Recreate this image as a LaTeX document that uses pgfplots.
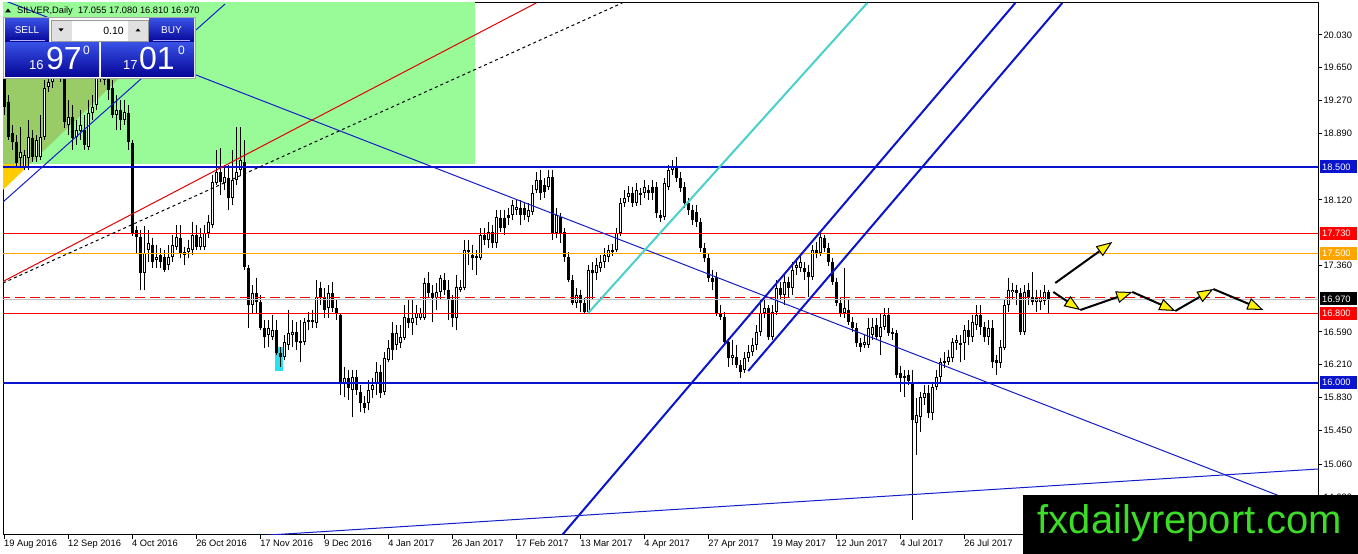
\documentclass[border=0pt]{standalone}
\usepackage{pgfplots}
\pgfplotsset{compat=1.18}
\usepackage{pgfplotstable}
\usepackage{fontspec}
\setmainfont{Liberation Sans}
\usetikzlibrary{arrows.meta}
\definecolor{mtgreen}{RGB}{152,251,152}
\definecolor{olivegr}{RGB}{153,204,102}
\definecolor{mtgold}{RGB}{255,204,0}
\definecolor{mtblue}{RGB}{10,20,205}
\definecolor{thinblue}{RGB}{20,30,200}
\definecolor{mtred}{RGB}{255,0,0}
\definecolor{mtorange}{RGB}{255,165,0}
\definecolor{mtsilver}{RGB}{192,192,192}
\definecolor{mtturq}{RGB}{72,209,204}
\definecolor{hlcyan}{RGB}{40,225,240}
\definecolor{fxgreen}{RGB}{60,220,40}
\definecolor{btntop}{RGB}{55,80,228}
\definecolor{btnbot}{RGB}{5,5,150}
\pgfplotstableread{
i o h l c
0 19.57 19.62 19.10 19.20
1 19.25 19.33 18.81 18.85
2 18.89 18.99 18.70 18.79
3 18.79 18.87 18.49 18.55
4 18.61 18.96 18.50 18.67
5 18.50 18.70 18.47 18.64
6 18.61 19.05 18.47 18.85
7 18.84 18.93 18.56 18.62
8 18.62 18.87 18.56 18.81
9 18.62 19.10 18.58 18.85
10 18.85 19.51 18.81 19.42
11 19.43 19.53 19.37 19.49
12 19.49 19.68 19.42 19.62
13 19.60 19.80 19.57 19.74
14 19.74 19.80 19.49 19.53
15 19.53 19.62 18.95 19.02
16 18.99 19.28 18.87 19.08
17 19.08 19.22 18.70 18.84
18 18.85 19.05 18.76 18.93
19 18.92 19.16 18.81 18.99
20 18.93 19.10 18.70 18.76
21 18.73 19.28 18.70 19.13
22 19.13 19.33 19.05 19.20
23 19.22 19.62 19.16 19.53
24 19.53 19.74 19.49 19.68
25 19.68 19.74 19.45 19.51
26 19.53 19.57 19.28 19.39
27 19.42 19.51 19.07 19.10
28 19.10 19.33 18.93 19.16
29 19.16 19.28 18.93 19.05
30 19.05 19.28 18.99 19.14
31 19.13 19.22 18.70 18.79
32 18.78 18.81 17.70 17.74
33 17.77 17.82 17.50 17.69
34 17.69 17.77 17.08 17.27
35 17.27 17.82 17.08 17.50
36 17.54 17.77 17.40 17.62
37 17.60 17.68 17.33 17.40
38 17.42 17.60 17.33 17.46
39 17.48 17.56 17.33 17.40
40 17.46 17.54 17.28 17.31
41 17.37 17.60 17.31 17.46
42 17.46 17.71 17.40 17.60
43 17.57 17.83 17.54 17.69
44 17.68 17.83 17.45 17.50
45 17.48 17.57 17.37 17.52
46 17.52 17.66 17.45 17.56
47 17.54 17.86 17.48 17.71
48 17.71 17.83 17.54 17.57
49 17.57 17.79 17.54 17.69
50 17.57 17.83 17.54 17.74
51 17.74 17.94 17.68 17.86
52 17.83 18.41 17.79 18.33
53 18.32 18.70 18.29 18.44
54 18.44 18.72 18.18 18.33
55 18.32 18.52 18.23 18.38
56 18.37 18.52 18.00 18.14
57 18.14 18.70 18.06 18.35
58 18.35 18.96 18.29 18.44
59 18.47 18.96 18.41 18.58
60 18.56 18.81 17.31 17.34
61 17.33 17.37 16.64 16.90
62 16.90 17.13 16.81 17.04
63 17.04 17.21 16.81 16.94
64 16.94 17.02 16.61 16.64
65 16.64 16.73 16.40 16.53
66 16.55 16.73 16.42 16.64
67 16.53 16.79 16.50 16.61
68 16.61 16.73 16.32 16.35
69 16.35 16.42 16.18 16.30
70 16.30 16.55 16.26 16.47
71 16.44 16.84 16.38 16.58
72 16.55 16.73 16.42 16.59
73 16.59 16.71 16.38 16.47
74 16.49 16.73 16.24 16.46
75 16.47 16.75 16.44 16.71
76 16.73 16.82 16.61 16.71
77 16.71 16.84 16.64 16.73
78 16.69 17.19 16.64 16.99
79 17.10 17.17 16.90 16.99
80 16.99 17.10 16.75 16.84
81 16.87 17.13 16.75 17.04
82 17.04 17.17 16.82 16.87
83 16.87 16.96 16.73 16.81
84 16.79 16.81 15.86 16.00
85 16.00 16.18 15.84 16.06
86 16.06 16.15 15.80 15.94
87 15.92 16.15 15.60 16.07
88 16.07 16.15 15.86 15.92
89 15.89 15.98 15.66 15.77
90 15.77 15.85 15.65 15.71
91 15.77 16.03 15.69 15.92
92 15.92 16.06 15.82 15.98
93 16.00 16.24 15.86 16.13
94 16.13 16.21 15.82 15.88
95 15.89 16.36 15.86 16.29
96 16.26 16.50 16.24 16.40
97 16.58 16.71 16.26 16.38
98 16.44 16.67 16.38 16.58
99 16.46 16.67 16.40 16.53
100 16.52 16.90 16.50 16.76
101 16.75 16.96 16.64 16.69
102 16.69 16.96 16.55 16.75
103 16.75 16.90 16.67 16.81
104 16.75 16.87 16.73 16.81
105 16.75 17.21 16.73 17.16
106 17.16 17.28 16.98 17.04
107 17.04 17.13 16.71 16.98
108 16.98 17.16 16.84 17.05
109 17.05 17.25 16.96 17.21
110 17.19 17.27 17.02 17.08
111 17.08 17.19 16.73 16.96
112 16.96 17.02 16.65 16.75
113 16.75 17.25 16.61 17.11
114 17.08 17.19 17.05 17.11
115 17.10 17.66 17.08 17.54
116 17.52 17.66 17.37 17.54
117 17.48 17.60 17.31 17.45
118 17.47 17.54 17.25 17.45
119 17.45 17.79 17.42 17.71
120 17.71 17.79 17.60 17.66
121 17.66 17.86 17.56 17.75
122 17.75 17.83 17.56 17.62
123 17.62 18.00 17.56 17.92
124 17.91 18.00 17.75 17.79
125 17.91 18.00 17.71 17.79
126 17.91 18.03 17.83 17.94
127 17.94 18.12 17.89 18.06
128 18.00 18.12 17.94 18.04
129 18.03 18.12 17.83 17.94
130 18.03 18.08 17.89 17.94
131 17.92 18.08 17.86 18.00
132 17.98 18.29 17.94 18.20
133 18.23 18.44 18.20 18.35
134 18.35 18.47 18.12 18.20
135 18.29 18.37 18.14 18.21
136 18.27 18.47 18.23 18.38
137 18.38 18.47 17.66 17.74
138 17.74 18.03 17.68 17.94
139 17.92 17.97 17.62 17.74
140 17.75 17.79 17.40 17.46
141 17.46 17.52 17.17 17.19
142 17.19 17.25 16.90 16.93
143 16.93 17.10 16.87 17.02
144 17.02 17.08 16.82 16.93
145 16.93 16.98 16.80 16.82
146 16.82 17.37 16.80 17.31
147 17.31 17.40 16.96 17.27
148 17.27 17.45 17.19 17.37
149 17.33 17.48 17.28 17.40
150 17.40 17.56 17.33 17.48
151 17.46 17.60 17.40 17.54
152 17.52 17.61 17.47 17.54
153 17.54 17.79 17.52 17.74
154 17.74 18.14 17.70 18.08
155 18.08 18.23 18.04 18.14
156 18.15 18.28 18.10 18.20
157 18.20 18.27 18.04 18.08
158 18.08 18.32 18.05 18.23
159 18.20 18.26 18.06 18.18
160 18.20 18.35 18.14 18.27
161 18.23 18.29 18.12 18.20
162 18.27 18.35 18.12 18.20
163 18.27 18.33 17.91 17.97
164 17.94 18.00 17.86 17.91
165 17.92 18.37 17.89 18.32
166 18.27 18.52 18.23 18.47
167 18.47 18.58 18.41 18.50
168 18.49 18.62 18.33 18.37
169 18.37 18.44 18.21 18.26
170 18.27 18.33 18.03 18.08
171 18.08 18.14 17.94 18.00
172 18.00 18.06 17.83 17.89
173 17.98 18.06 17.81 17.86
174 17.86 17.91 17.52 17.56
175 17.56 17.62 17.40 17.45
176 17.45 17.50 17.17 17.21
177 17.21 17.31 17.08 17.17
178 17.23 17.28 16.77 16.81
179 16.81 16.90 16.73 16.76
180 16.76 16.82 16.44 16.47
181 16.47 16.52 16.18 16.29
182 16.29 16.50 16.21 16.32
183 16.30 16.44 16.17 16.21
184 16.21 16.26 16.06 16.13
185 16.15 16.36 16.11 16.29
186 16.29 16.44 16.24 16.36
187 16.36 16.52 16.31 16.44
188 16.44 16.67 16.38 16.59
189 16.59 16.96 16.54 16.81
190 16.81 16.96 16.75 16.87
191 16.87 16.90 16.50 16.53
192 16.53 16.90 16.50 16.82
193 16.82 17.19 16.79 17.10
194 17.10 17.17 16.96 17.02
195 17.02 17.25 16.90 17.17
196 17.17 17.23 16.98 17.10
197 17.10 17.40 17.02 17.31
198 17.33 17.45 17.25 17.37
199 17.33 17.48 17.28 17.40
200 17.33 17.40 17.19 17.28
201 17.28 17.37 16.99 17.23
202 17.23 17.60 17.19 17.54
203 17.54 17.63 17.45 17.50
204 17.50 17.75 17.47 17.69
205 17.68 17.71 17.52 17.56
206 17.56 17.62 17.35 17.40
207 17.40 17.45 17.13 17.17
208 17.17 17.21 16.89 16.93
209 16.93 16.98 16.76 16.81
210 16.81 17.33 16.75 16.87
211 16.84 16.96 16.67 16.71
212 16.71 16.76 16.59 16.64
213 16.64 16.69 16.42 16.46
214 16.46 16.52 16.36 16.42
215 16.44 16.55 16.40 16.47
216 16.44 16.75 16.40 16.64
217 16.55 16.75 16.50 16.65
218 16.67 16.75 16.50 16.53
219 16.53 16.81 16.32 16.65
220 16.65 16.87 16.61 16.79
221 16.79 16.87 16.54 16.58
222 16.59 16.64 16.50 16.57
223 16.58 16.61 16.06 16.09
224 16.11 16.20 15.89 16.06
225 16.08 16.15 15.84 16.06
226 16.09 16.15 15.98 16.02
227 16.00 16.15 14.41 15.57
228 15.54 15.82 15.16 15.63
229 15.60 15.89 15.43 15.84
230 15.82 15.98 15.74 15.88
231 15.88 15.98 15.59 15.65
232 15.65 16.01 15.57 15.95
233 15.95 16.15 15.92 16.07
234 16.07 16.29 16.01 16.24
235 16.23 16.36 16.17 16.25
236 16.24 16.38 16.21 16.30
237 16.29 16.52 16.24 16.47
238 16.46 16.55 16.38 16.50
239 16.46 16.55 16.24 16.44
240 16.46 16.67 16.26 16.61
241 16.61 16.73 16.44 16.53
242 16.53 16.79 16.47 16.71
243 16.67 16.90 16.61 16.79
244 16.79 16.90 16.55 16.65
245 16.65 16.71 16.47 16.53
246 16.53 16.73 16.44 16.64
247 16.64 16.73 16.17 16.24
248 16.26 16.32 16.09 16.23
249 16.23 16.50 16.17 16.42
250 16.40 16.96 16.38 16.90
251 16.90 17.21 16.82 17.08
252 17.05 17.16 16.96 17.08
253 17.08 17.13 16.90 17.04
254 17.04 17.10 16.55 16.59
255 16.59 17.13 16.55 17.05
256 17.08 17.16 16.90 16.99
257 16.99 17.28 16.90 16.94
258 16.94 17.08 16.82 16.98
259 16.94 17.08 16.84 16.99
260 16.95 17.13 16.90 17.05
261 17.055 17.08 16.81 16.97
}\candles
\newcommand{\tf}{\fontsize{9.3pt}{11pt}\selectfont}
\begin{document}
\begin{tikzpicture}
\useasboundingbox (0,0) rectangle (1358pt,554pt);
\fill[white] (0,0) rectangle (1358pt,554pt);
\begin{axis}[
  at={(3pt,19pt)}, anchor=south west,
  scale only axis, width=1315pt, height=532pt,
  xmin=-0.25, xmax=328.5, ymin=14.2375, ymax=20.4007,
  axis line style={black, line width=1pt},
  xtick={0,16,32,48,64,80,96,112,128,144,160,176,192,208,224,240},
  xticklabels={19 Aug 2016,12 Sep 2016,4 Oct 2016,26 Oct 2016,17 Nov 2016,9 Dec 2016,4 Jan 2017,26 Jan 2017,17 Feb 2017,13 Mar 2017,4 Apr 2017,27 Apr 2017,19 May 2017,12 Jun 2017,4 Jul 2017,26 Jul 2017},
  ytick={20.03,19.65,19.27,18.89,18.12,17.36,16.59,16.21,15.83,15.45,15.06,14.68},
  yticklabels={20.030,19.650,19.270,18.890,18.120,17.360,16.590,16.210,15.830,15.450,15.060,14.680},
  xtick pos=left, ytick pos=right, yticklabel pos=right,
  tick align=outside, major tick length=4pt,
  tick style={black, line width=1pt},
  xticklabel style={font=\tf, anchor=north west, inner sep=1pt, xshift=-1pt},
  yticklabel style={font=\tf, anchor=west, inner sep=1pt},
]
% background objects
\addplot[fill=mtgreen, draw=none] coordinates {(-1,18.535) (117.75,18.535) (117.75,20.6) (-1,20.6)} -- cycle;
\addplot[fill=olivegr, draw=none] coordinates {(-6,18.535) (6.475,18.535) (32.75,19.706) (-6,19.97)} -- cycle;
\addplot[fill=mtgold, draw=none] coordinates {(-6,17.979) (6.475,18.535) (-6,18.535)} -- cycle;
\addplot[fill=hlcyan, draw=none] coordinates {(67.75,16.138) (69.75,16.138) (69.75,16.416) (67.75,16.416)} -- cycle;
% candles: wicks
\addplot[draw=none, mark=none, forget plot, error bars/.cd, y dir=minus, y explicit, error mark=none,
  error bar style={draw=black, solid, line width=1pt}]
  table[x=i, y=h, y error expr=\thisrow{h}-\thisrow{l}] {\candles};
% bodies
\addplot[draw=none, mark=none, forget plot, error bars/.cd, y dir=minus, y explicit, error mark=none,
  error bar style={draw=black, solid, line width=3pt}]
  table[x=i, y expr={max(\thisrow{o},\thisrow{c})}, y error expr={max(abs(\thisrow{o}-\thisrow{c}),0.012)}] {\candles};
% white interiors of rising candles
\addplot[draw=none, mark=none, forget plot, restrict expr to domain={\thisrow{c}-\thisrow{o}}{0.03:10},
  error bars/.cd, y dir=minus, y explicit, error mark=none,
  error bar style={draw=white, solid, line width=1pt}]
  table[x=i, y expr={\thisrow{c}-0.012}, y error expr={\thisrow{c}-\thisrow{o}-0.024}] {\candles};
% horizontal levels
\addplot[mtsilver, line width=1pt] coordinates {(-1,16.97) (330,16.97)};
\addplot[mtred, line width=1pt, dash pattern=on 10pt off 5pt] coordinates {(-1,16.99) (330,16.99)};
\addplot[mtred, line width=1.1pt] coordinates {(-1,17.73) (330,17.73)};
\addplot[mtorange, line width=1.1pt] coordinates {(-1,17.50) (330,17.50)};
\addplot[mtred, line width=1.1pt] coordinates {(-1,16.80) (330,16.80)};
\addplot[mtblue, line width=2pt] coordinates {(-1,18.50) (330,18.50)};
\addplot[mtblue, line width=2pt] coordinates {(-1,16.00) (330,16.00)};
% trend lines
\addplot[thinblue, line width=1pt] coordinates {(-0.25,20.4355) (328.5,14.515)};
\addplot[thinblue, line width=1pt] coordinates {(-0.25,18.0953) (55.25,20.389)};
\addplot[mtred!90!black, line width=1pt] coordinates {(-0.25,17.1743) (133,20.4007)};
\addplot[black, line width=1pt, dash pattern=on 3pt off 3pt] coordinates {(-0.25,17.157) (154.5,20.4007)};
\addplot[mtturq, line width=2pt] coordinates {(146,16.8094) (215.75,20.4007)};
\addplot[mtblue, line width=2pt] coordinates {(139.5,14.2375) (252.75,20.4007)};
\addplot[mtblue, line width=2pt] coordinates {(186,16.1375) (264.5,20.4007)};
\addplot[thinblue, line width=1pt] coordinates {(61.5,14.2236) (328.5,15.0022)};
% projected path arrows
\addplot[black, line width=2pt, -{Triangle[length=16pt,width=12pt,fill=yellow,line width=1pt]}] coordinates {(262.75,17.157) (277,17.632)};
\addplot[black, line width=2pt, -{Triangle[length=16pt,width=12pt,fill=yellow,line width=1pt]}] coordinates {(262.25,17.053) (269,16.844)};
\addplot[black, line width=2pt, -{Triangle[length=16pt,width=12pt,fill=yellow,line width=1pt]}] coordinates {(269,16.844) (282,17.053)};
\addplot[black, line width=2pt, -{Triangle[length=16pt,width=12pt,fill=yellow,line width=1pt]}] coordinates {(282,17.053) (292.75,16.833)};
\addplot[black, line width=2pt, -{Triangle[length=16pt,width=12pt,fill=yellow,line width=1pt]}] coordinates {(292.75,16.833) (302.25,17.087)};
\addplot[black, line width=2pt, -{Triangle[length=16pt,width=12pt,fill=yellow,line width=1pt]}] coordinates {(302.25,17.087) (314.75,16.844)};
\end{axis}
\begin{scope}[x=1pt,y=-1pt,shift={(0pt,554pt)}]
% title
\fill[black] (5,12.5) -- (11,12.5) -- (8,8.5) -- cycle;
\node[anchor=base west, inner sep=0pt, font=\tf] at (17,14) {SILVER,Daily\ \ 17.055 17.080 16.810 16.970};
% trading panel
\fill[white] (3,17) rectangle (196,79);
\draw[black!35, line width=0.6pt] (3.5,17.5) rectangle (195.5,78.5);
\shade[top color=btntop, bottom color=btnbot] (5,19) rectangle (49,42);
\shade[top color=btntop, bottom color=btnbot] (149,19) rectangle (194,42);
\draw[white!70!blue, line width=0.8pt] (10,40) -- (45,40);
\draw[white!70!blue, line width=0.8pt] (153,40) -- (190,40);
\node[white, font=\fontsize{10pt}{12pt}\selectfont] at (27,30) {SELL};
\node[white, font=\fontsize{10pt}{12pt}\selectfont] at (171.5,30) {BUY};
\fill[black!12] (51,20) rectangle (72,41);
\fill[black!12] (128,20) rectangle (148,41);
\draw[black!40, line width=0.6pt] (51,20) rectangle (148,41);
\fill[black] (58.5,28.5) -- (63.5,28.5) -- (61,31.5) -- cycle;
\fill[black] (135.5,31.5) -- (140.5,31.5) -- (138,28.5) -- cycle;
\node[anchor=base east, inner sep=0pt, font=\fontsize{10.5pt}{12pt}\selectfont] at (124,35) {0.10};
\shade[top color=btntop, bottom color=btnbot] (5,43) rectangle (99,77);
\shade[top color=btntop, bottom color=btnbot] (101,43) rectangle (194,77);
\node[white, anchor=base west, inner sep=0pt, font=\fontsize{13pt}{14pt}\selectfont] at (29,70) {16};
\node[white, anchor=base west, inner sep=0pt, font=\fontsize{32pt}{34pt}\selectfont] at (46,70) {97};
\node[white, anchor=base west, inner sep=0pt, font=\fontsize{12pt}{13pt}\selectfont] at (83,55) {0};
\node[white, anchor=base west, inner sep=0pt, font=\fontsize{13pt}{14pt}\selectfont] at (123,70) {17};
\node[white, anchor=base west, inner sep=0pt, font=\fontsize{32pt}{34pt}\selectfont] at (139,70) {01};
\node[white, anchor=base west, inner sep=0pt, font=\fontsize{12pt}{13pt}\selectfont] at (178,55) {0};
% price labels on the right scale
\fill[mtblue] (1320,160.5) rectangle (1357,173.5);
\node[white, font=\tf, anchor=west, inner sep=0pt] at (1322,167) {18.500};
\fill[mtred] (1320,227) rectangle (1357,240);
\node[white, font=\tf, anchor=west, inner sep=0pt] at (1322,233.5) {17.730};
\fill[mtorange] (1320,247) rectangle (1357,260);
\node[white, font=\tf, anchor=west, inner sep=0pt] at (1322,253.5) {17.500};
\fill[black] (1320,292.5) rectangle (1357,305.5);
\node[white, font=\tf, anchor=west, inner sep=0pt] at (1322,299) {16.970};
\fill[mtred] (1320,307.3) rectangle (1357,320.3);
\node[white, font=\tf, anchor=west, inner sep=0pt] at (1322,313.8) {16.800};
\fill[mtblue] (1320,376.3) rectangle (1357,389.3);
\node[white, font=\tf, anchor=west, inner sep=0pt] at (1322,382.8) {16.000};
% watermark
\fill[black] (1023,495) rectangle (1358,554);
\node[fxgreen, anchor=base, inner sep=0pt, font=\fontsize{40pt}{44pt}\selectfont] at (1190,534) {fxdailyreport.com};
\end{scope}
\end{tikzpicture}
\end{document}
